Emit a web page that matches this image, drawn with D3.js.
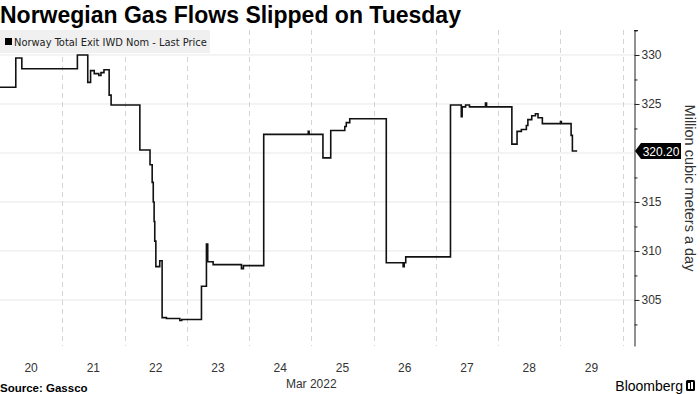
<!DOCTYPE html>
<html>
<head>
<meta charset="utf-8">
<script src="https://cdn.jsdelivr.net/npm/d3@7"></script>
<style>
  body { margin: 0; background: #fff; }
  svg { display: block; font-family: "Liberation Sans", Arial, sans-serif; }
</style>
</head>
<body>
<div id="chart"></div>
<script>
// Norway total exit flows, hourly-ish readings (mcm/d)
const times = [
  '2022-03-20 00:00', '2022-03-20 06:05', '2022-03-20 08:25', '2022-03-21 05:50', '2022-03-21 09:50',
  '2022-03-21 10:55', '2022-03-21 12:20', '2022-03-21 14:05', '2022-03-21 14:55', '2022-03-21 16:05',
  '2022-03-21 18:05', '2022-03-21 18:50', '2022-03-22 05:55', '2022-03-22 09:50', '2022-03-22 10:40',
  '2022-03-22 11:05', '2022-03-22 11:25', '2022-03-22 11:40', '2022-03-22 12:05', '2022-03-22 13:35',
  '2022-03-22 14:30', '2022-03-22 16:10', '2022-03-22 21:20', '2022-03-22 22:05', '2022-03-23 05:40',
  '2022-03-23 07:35', '2022-03-23 08:05', '2022-03-23 10:10', '2022-03-23 21:05', '2022-03-23 21:50',
  '2022-03-24 05:40', '2022-03-24 22:50', '2022-03-24 23:10', '2022-03-25 04:30', '2022-03-25 07:30',
  '2022-03-25 12:55', '2022-03-25 13:30', '2022-03-25 14:50', '2022-03-26 04:55', '2022-03-26 11:25',
  '2022-03-26 11:50', '2022-03-26 12:25', '2022-03-27 05:40', '2022-03-27 09:50', '2022-03-27 10:10',
  '2022-03-27 11:30', '2022-03-27 13:00', '2022-03-27 19:10', '2022-03-27 19:35', '2022-03-28 05:20',
  '2022-03-28 07:20', '2022-03-28 09:00', '2022-03-28 10:55', '2022-03-28 11:30', '2022-03-28 13:00',
  '2022-03-28 14:25', '2022-03-28 15:25', '2022-03-28 17:05', '2022-03-29 00:05', '2022-03-29 00:25',
  '2022-03-29 04:10', '2022-03-29 04:40', '2022-03-29 06:30'
];
const flows = [
  326.7, 329.7, 328.6, 330.0, 327.2,
  328.4, 328.1, 327.9, 328.2, 328.5,
  325.9, 324.9, 320.3, 318.8, 317.0,
  315.0, 313.0, 311.0, 308.4, 309.0,
  303.2, 303.1, 302.9, 303.0, 306.4,
  310.7, 308.9, 308.6, 308.2, 308.5,
  321.9, 322.2, 321.9, 319.5, 322.3,
  322.7, 323.1, 323.5, 308.8, 308.4,
  308.8, 309.4, 324.9, 323.7, 324.7,
  324.9, 324.7, 325.1, 324.7, 320.9,
  322.2, 322.4, 322.8, 323.4, 323.8,
  324.0, 323.6, 323.0, 323.2, 323.0,
  321.8, 320.2, 320.2
];
const yTicks = [305, 310, 315, 320, 325, 330];
const yMinorTicks = [302.5, 307.5, 312.5, 317.5, 322.5, 327.5, 332.5];
const dayTicks = ['2022-03-20', '2022-03-21', '2022-03-22', '2022-03-23', '2022-03-24',
  '2022-03-25', '2022-03-26', '2022-03-27', '2022-03-28', '2022-03-29', '2022-03-30'];
const lastValue = 320.20;

const parseTime = d3.timeParse('%Y-%m-%d %H:%M');
const parseDay = d3.timeParse('%Y-%m-%d');
const data = times.map((t, i) => ({ date: parseTime(t), value: flows[i] }));
const days = dayTicks.map(parseDay);

const width = 700, height = 394;
const plot = { left: 0, right: 634, top: 30, bottom: 346 };
const narrow = '"Liberation Sans Narrow", "DejaVu Sans Condensed", "Liberation Sans", sans-serif';

const svg = d3.select('#chart').append('svg')
  .attr('width', width)
  .attr('height', height);

const x = d3.scaleTime()
  .domain([parseTime('2022-03-20 00:00'), parseTime('2022-03-30 04:25')])
  .range([plot.left, plot.right]);

const y = d3.scaleLinear()
  .domain([300.3, 332.55])
  .range([plot.bottom, plot.top]);

// Title
svg.append('text')
  .attr('x', 0)
  .attr('y', 23)
  .style('font-weight', 'bold')
  .style('font-size', '23px')
  .style('fill', '#000')
  .text('Norwegian Gas Flows Slipped on Tuesday');

// Horizontal gridlines
svg.append('g')
  .selectAll('line')
  .data(yTicks)
  .enter().append('line')
  .attr('x1', plot.left)
  .attr('x2', plot.right)
  .attr('y1', d => y(d))
  .attr('y2', d => y(d))
  .style('stroke', '#e8e8e8')
  .style('stroke-width', 1);

// Vertical dashed gridlines at midnight
svg.append('g')
  .selectAll('line')
  .data(days.slice(1))
  .enter().append('line')
  .attr('x1', d => Math.round(x(d)) + 0.5)
  .attr('x2', d => Math.round(x(d)) + 0.5)
  .attr('y1', plot.top)
  .attr('y2', plot.bottom)
  .style('stroke', '#d4d4d4')
  .style('stroke-dasharray', '5,4');

// Legend box
const legend = svg.append('g');
legend.append('rect')
  .attr('x', 0).attr('y', 30)
  .attr('width', 210).attr('height', 23)
  .style('fill', '#f0f0f0');
legend.append('rect')
  .attr('x', 5).attr('y', 38)
  .attr('width', 7).attr('height', 7)
  .style('fill', '#000');
legend.append('text')
  .attr('x', 14).attr('y', 46)
  .style('font-family', narrow)
  .style('font-size', '11px')
  .style('fill', '#222')
  .text('Norway Total Exit IWD Nom - Last Price');

// The flow line
const line = d3.line()
  .x(d => x(d.date))
  .y(d => y(d.value))
  .curve(d3.curveStepAfter);

svg.append('path')
  .datum(data)
  .attr('d', line)
  .style('fill', 'none')
  .style('stroke', '#111')
  .style('stroke-width', 1.6);

// Right axis (the 320 label sits under the last-value tag, so skip it)
const yAxis = svg.append('g')
  .attr('transform', `translate(${plot.right + 0.5},0)`)
  .call(d3.axisRight(y).tickValues(yTicks.filter(d => Math.abs(d - lastValue) > 2))
    .tickSize(5).tickSizeOuter(0).tickPadding(2));
yAxis.select('.domain').style('stroke', '#222');
yAxis.selectAll('text')
  .style('font-size', '12px')
  .style('fill', '#333');
yAxis.selectAll('line').style('stroke', '#222');

svg.append('g')
  .attr('transform', `translate(${plot.right + 0.5},0)`)
  .call(d3.axisRight(y).tickValues(yMinorTicks).tickSize(3).tickFormat(''))
  .call(g => g.select('.domain').remove())
  .selectAll('line').style('stroke', '#222');

// End cap on top of the axis line
svg.append('line')
  .attr('x1', plot.right).attr('x2', plot.right + 4)
  .attr('y1', plot.top + 0.5).attr('y2', plot.top + 0.5)
  .style('stroke', '#222');

// Last value tag
const tagY = y(lastValue);
const tag = svg.append('g').attr('transform', `translate(${plot.right + 1},${tagY})`);
tag.append('path')
  .attr('d', 'M0,0 L6,-8 L46,-8 L46,8 L6,8 Z')
  .style('fill', '#000');
tag.append('text')
  .attr('x', 26).attr('y', 4.5)
  .attr('text-anchor', 'middle')
  .style('font-size', '12px')
  .style('fill', '#fff')
  .text(d3.format('.2f')(lastValue));

// Y axis title
svg.append('text')
  .attr('transform', `translate(685,${(plot.top + plot.bottom) / 2}) rotate(90)`)
  .attr('text-anchor', 'middle')
  .style('font-size', '14.5px')
  .style('fill', '#333')
  .text('Million cubic meters a day');

// Day labels centred at noon
svg.append('g')
  .selectAll('text')
  .data(days.slice(0, 10))
  .enter().append('text')
  .attr('x', d => x(d3.timeHour.offset(d, 12)))
  .attr('y', 372)
  .attr('text-anchor', 'middle')
  .style('font-size', '12px')
  .style('fill', '#333')
  .text(d => d3.timeFormat('%-d')(d));

svg.append('text')
  .attr('x', x(parseTime('2022-03-25 00:00')))
  .attr('y', 388)
  .attr('text-anchor', 'middle')
  .style('font-size', '12px')
  .style('fill', '#333')
  .text('Mar 2022');

// Footer
svg.append('text')
  .attr('x', 0).attr('y', 392)
  .style('font-weight', 'bold')
  .style('font-size', '11.5px')
  .style('fill', '#000')
  .text('Source: Gassco');

svg.append('text')
  .attr('x', 683).attr('y', 391)
  .attr('text-anchor', 'end')
  .style('font-size', '14px')
  .style('fill', '#000')
  .text('Bloomberg');

const logo = svg.append('g').attr('transform', 'translate(686,380)');
logo.append('rect').attr('width', 9).attr('height', 11).attr('rx', 1.5).style('fill', '#000');
logo.append('rect').attr('x', 2).attr('y', 3).attr('width', 2).attr('height', 6).style('fill', '#fff');
logo.append('rect').attr('x', 5).attr('y', 2).attr('width', 2).attr('height', 7).style('fill', '#fff');
</script>
</body>
</html>
